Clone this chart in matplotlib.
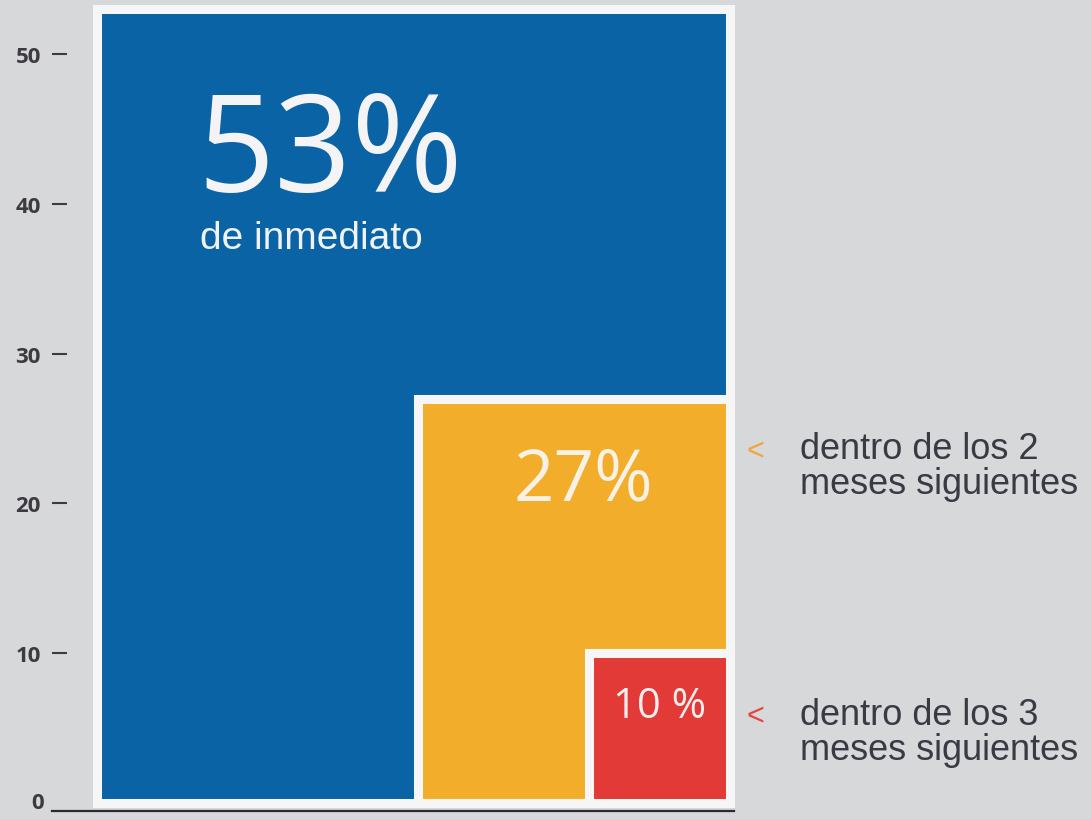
import matplotlib.pyplot as plt

# data
labels = ['de inmediato', 'dentro de los 2\nmeses siguientes', 'dentro de los 3\nmeses siguientes']
values = [53, 27, 10]
value_text = ['53%', '27%', '10 %']
colors = ['#0a63a5', '#f2ae2b', '#e23a36']
arrow_colors = ['#f2a43a', '#e5453d']
yticks = [10, 20, 30, 40, 50]

# layout (pixels of the 1091x820 output)
W, H = 1091, 820
zero_px = 804.0
px_per_unit = 14.98
bar_right = 730
bar_widths = [633, 312, 141]

narrow = ['Liberation Sans Narrow', 'DejaVu Sans Condensed', 'Liberation Sans', 'DejaVu Sans']
wide = ['Open Sans', 'Lato', 'DejaVu Sans']

fig = plt.figure(figsize=(W / 100, H / 100), dpi=100)
fig.patch.set_facecolor('#d7d8da')
ax = fig.add_axes([52 / W, 0, 1 - 52 / W, 1])
ax.set_facecolor('none')
ax.set_xlim(52, W)
ax.set_ylim(-(H - zero_px) / px_per_unit, zero_px / px_per_unit)

lefts = [bar_right - w for w in bar_widths]
ax.bar(lefts, values, width=bar_widths, align='edge', color=colors,
       edgecolor='#f6f6f6', linewidth=6.5, clip_on=False, zorder=2)

# axis styling
for s in ['top', 'right', 'left']:
    ax.spines[s].set_visible(False)
base = -8 / px_per_unit
ax.spines['bottom'].set_position(('data', base))
ax.spines['bottom'].set_bounds(52, bar_right + 4)
ax.spines['bottom'].set_color('#2b2a33')
ax.spines['bottom'].set_linewidth(1.6)
ax.spines['bottom'].set_zorder(3)
ax.set_xticks([])
ax.set_yticks(yticks)
ax.set_yticklabels([str(t) for t in yticks])
ax.tick_params(axis='y', direction='in', length=11, width=1.5, color='#3d3a40',
               pad=8, labelsize=16, labelcolor='#3d3a40')
for lab in ax.get_yticklabels():
    lab.set_fontweight('bold')
    lab.set_family(wide)
ax.text(44, 0, '0', ha='right', va='center', fontsize=16, fontweight='bold',
        color='#3d3a40', family=wide, clip_on=False)

# values inside the bars
ax.text(lefts[0] + 233, values[0] - 9.75, value_text[0], ha='center', va='center',
        fontsize=97, color='#f4f4f6', family=wide)
ax.text(lefts[0] + 103, values[0] - 15.3, labels[0], ha='left', va='center',
        fontsize=28, color='#f0f2f5', family=narrow)
ax.text(lefts[1] + bar_widths[1] / 2 + 9, values[1] - 5.5, value_text[1], ha='center',
        va='center', fontsize=51, color='#f8f1e6', family=wide)
ax.text(lefts[2] + bar_widths[2] / 2, values[2] - 3.5, value_text[2], ha='center',
        va='center', fontsize=30, color='#f8eeee', family=wide)

# notes on the right
for lab, c, y in zip(labels[1:], arrow_colors, [22.5, 4.75]):
    ax.text(746, y + 1.0, '<', ha='left', va='center', fontsize=22, color=c, family=narrow)
    ax.text(800, y, lab, ha='left', va='center', fontsize=26, color='#3a3944',
            family=narrow, linespacing=1.0)

plt.savefig('out.png', dpi=100, facecolor=fig.get_facecolor())
